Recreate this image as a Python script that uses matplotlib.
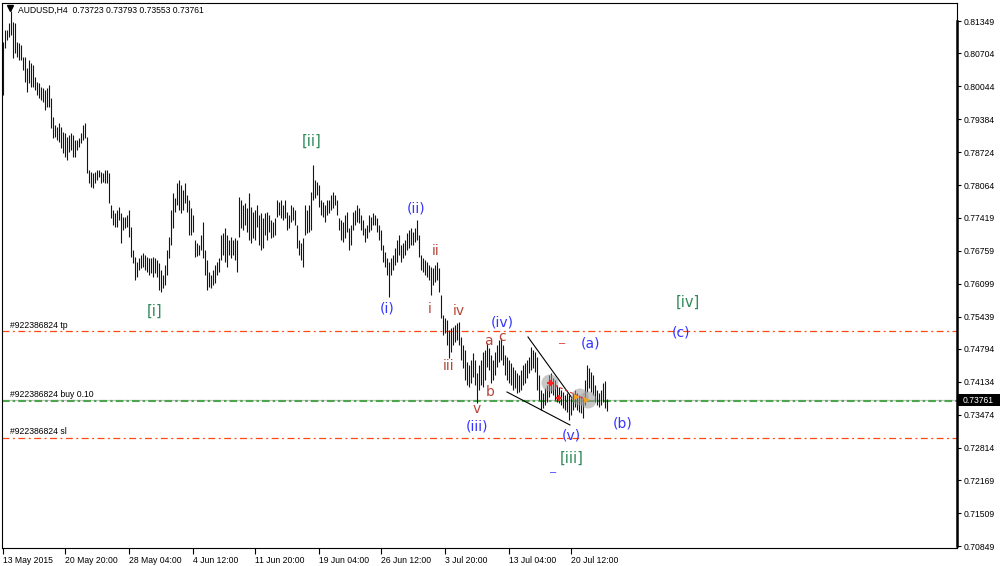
import matplotlib
matplotlib.use("Agg")
import matplotlib.pyplot as plt
import matplotlib.transforms as mtransforms
from matplotlib.lines import Line2D
from matplotlib.patches import Rectangle

plt.rcParams['font.family'] = ['Liberation Sans', 'DejaVu Sans']

symbol = "AUDUSD,H4"
last_ohlc = [0.73723, 0.73793, 0.73553, 0.73761]

# H4 bar highs / lows, oldest first
highs = [
    0.8093, 0.8117, 0.8117, 0.8131, 0.8155, 0.8133, 0.8131, 0.8093, 0.8091, 0.8087,
    0.8063, 0.8063, 0.8041, 0.8057, 0.8051, 0.8047, 0.8023, 0.8013, 0.8011, 0.8003,
    0.8001, 0.7997, 0.8001, 0.8007, 0.7981, 0.7943, 0.7927, 0.7923, 0.7931, 0.7923,
    0.7913, 0.7911, 0.7903, 0.7907, 0.7911, 0.7907, 0.7897, 0.7897, 0.7901, 0.7911,
    0.7927, 0.7931, 0.7903, 0.7837, 0.7833, 0.7831, 0.7833, 0.7837, 0.7837, 0.7833,
    0.7831, 0.7837, 0.7837, 0.7831, 0.7767, 0.7757, 0.7751, 0.7757, 0.7763, 0.7751,
    0.7743, 0.7743, 0.7747, 0.7757, 0.7723, 0.7677, 0.7663, 0.7653, 0.7661, 0.7667,
    0.7671, 0.7667, 0.7663, 0.7661, 0.7661, 0.7663, 0.7661, 0.7657, 0.7651, 0.7637,
    0.7627, 0.7647, 0.7677, 0.7703, 0.7757, 0.7791, 0.7781, 0.7811, 0.7817, 0.7807,
    0.7797, 0.7811, 0.7787, 0.7777, 0.7761, 0.7747, 0.7697, 0.7691, 0.7687, 0.7707,
    0.7733, 0.7677, 0.7657, 0.7633, 0.7627, 0.7637, 0.7647, 0.7653, 0.7661, 0.7707,
    0.7711, 0.7721, 0.7707, 0.7697, 0.7703, 0.7697, 0.7701, 0.7697, 0.7783, 0.7777,
    0.7767, 0.7771, 0.7761, 0.7791, 0.7763, 0.7753, 0.7757, 0.7767, 0.7747, 0.7751,
    0.7741, 0.7751, 0.7753, 0.7747, 0.7737, 0.7733, 0.7741, 0.7777, 0.7773, 0.7777,
    0.7767, 0.7777, 0.7753, 0.7747, 0.7767, 0.7763, 0.7757, 0.7727, 0.7697, 0.7691,
    0.7701, 0.7767, 0.7757, 0.7767, 0.7793, 0.7847, 0.7817, 0.7813, 0.7807, 0.7777,
    0.7773, 0.7767, 0.7777, 0.7777, 0.7787, 0.7793, 0.7787, 0.7777, 0.7741, 0.7737,
    0.7733, 0.7747, 0.7753, 0.7721, 0.7727, 0.7753, 0.7757, 0.7767, 0.7761, 0.7747,
    0.7737, 0.7721, 0.7727, 0.7747, 0.7743, 0.7751, 0.7747, 0.7741, 0.7727, 0.7717,
    0.7687, 0.7673, 0.7661, 0.7653, 0.7661, 0.7667, 0.7681, 0.7697, 0.7707, 0.7687,
    0.7691, 0.7697, 0.7711, 0.7717, 0.7721, 0.7713, 0.7721, 0.7737, 0.7707, 0.7667,
    0.7661, 0.7657, 0.7653, 0.7647, 0.7643, 0.7641, 0.7647, 0.7653, 0.7641, 0.7587,
    0.7547, 0.7541, 0.7537, 0.7517, 0.7521, 0.7523, 0.7527, 0.7531, 0.7533, 0.7503,
    0.7487, 0.7477, 0.7453, 0.7447, 0.7457, 0.7471, 0.7457, 0.7431, 0.7447, 0.7457,
    0.7473, 0.7477, 0.7491, 0.7481, 0.7467, 0.7457, 0.7473, 0.7487, 0.7497, 0.7501,
    0.7487, 0.7467, 0.7463, 0.7457, 0.7451, 0.7443, 0.7437, 0.7431, 0.7427, 0.7437,
    0.7447, 0.7451, 0.7457, 0.7463, 0.7483, 0.7477, 0.7473, 0.7463, 0.7427, 0.7397,
    0.7391, 0.7401, 0.7407, 0.7427, 0.7431, 0.7421, 0.7417, 0.7407, 0.7403, 0.7397,
    0.7393, 0.7387, 0.7391, 0.7387, 0.7381, 0.7391, 0.7397, 0.7391, 0.7387, 0.7383,
    0.7381, 0.7417, 0.7447, 0.7441, 0.7433, 0.7427, 0.7407, 0.7397, 0.7391, 0.7397,
    0.7411, 0.7415, 0.73793,
]
lows = [
    0.7987, 0.8081, 0.8097, 0.8103, 0.8107, 0.8061, 0.8071, 0.8063, 0.8057, 0.8057,
    0.8037, 0.8013, 0.7993, 0.8011, 0.8003, 0.8003, 0.7997, 0.7987, 0.7981, 0.7977,
    0.7973, 0.7957, 0.7963, 0.7963, 0.7921, 0.7901, 0.7903, 0.7897, 0.7893, 0.7881,
    0.7871, 0.7863, 0.7857, 0.7873, 0.7877, 0.7863, 0.7863, 0.7877, 0.7883, 0.7891,
    0.7897, 0.7901, 0.7831, 0.7811, 0.7803, 0.7801, 0.7811, 0.7817, 0.7823, 0.7811,
    0.7813, 0.7811, 0.7811, 0.7771, 0.7741, 0.7727, 0.7723, 0.7723, 0.7737, 0.7691,
    0.7717, 0.7721, 0.7723, 0.7703, 0.7663, 0.7651, 0.7617, 0.7623, 0.7637, 0.7641,
    0.7643, 0.7637, 0.7633, 0.7627, 0.7631, 0.7623, 0.7631, 0.7623, 0.7597, 0.7593,
    0.7601, 0.7607, 0.7627, 0.7661, 0.7687, 0.7721, 0.7753, 0.7767, 0.7757, 0.7751,
    0.7757, 0.7771, 0.7753, 0.7707, 0.7707, 0.7713, 0.7663, 0.7665, 0.7667, 0.7677,
    0.7661, 0.7627, 0.7597, 0.7603, 0.7601, 0.7607, 0.7611, 0.7627, 0.7633, 0.7657,
    0.7667, 0.7653, 0.7643, 0.7667, 0.7661, 0.7667, 0.7657, 0.7633, 0.7703, 0.7721,
    0.7717, 0.7727, 0.7713, 0.7697, 0.7691, 0.7701, 0.7697, 0.7723, 0.7687, 0.7677,
    0.7681, 0.7707, 0.7697, 0.7713, 0.7701, 0.7703, 0.7707, 0.7743, 0.7747, 0.7741,
    0.7737, 0.7741, 0.7717, 0.7721, 0.7733, 0.7737, 0.7727, 0.7681, 0.7667, 0.7657,
    0.7643, 0.7707, 0.7711, 0.7713, 0.7717, 0.7777, 0.7781, 0.7787, 0.7763, 0.7747,
    0.7743, 0.7733, 0.7747, 0.7751, 0.7757, 0.7761, 0.7767, 0.7747, 0.7717, 0.7697,
    0.7693, 0.7701, 0.7713, 0.7677, 0.7687, 0.7717, 0.7727, 0.7733, 0.7731, 0.7717,
    0.7707, 0.7693, 0.7701, 0.7713, 0.7717, 0.7727, 0.7727, 0.7713, 0.7697, 0.7677,
    0.7653, 0.7643, 0.7627, 0.7583, 0.7627, 0.7637, 0.7647, 0.7653, 0.7667, 0.7653,
    0.7661, 0.7667, 0.7677, 0.7681, 0.7687, 0.7687, 0.7693, 0.7697, 0.7663, 0.7637,
    0.7633, 0.7627, 0.7623, 0.7617, 0.7587, 0.7607, 0.7613, 0.7617, 0.7593, 0.7541,
    0.7507, 0.7511, 0.7487, 0.7461, 0.7473, 0.7487, 0.7493, 0.7497, 0.7487, 0.7457,
    0.7441, 0.7417, 0.7407, 0.7403, 0.7411, 0.7423, 0.7407, 0.7371, 0.7397, 0.7407,
    0.7403, 0.7417, 0.7443, 0.7437, 0.7411, 0.7417, 0.7427, 0.7443, 0.7453, 0.7457,
    0.7447, 0.7427, 0.7417, 0.7411, 0.7407, 0.7397, 0.7401, 0.7391, 0.7393, 0.7397,
    0.7407, 0.7411, 0.7421, 0.7431, 0.7437, 0.7441, 0.7433, 0.7397, 0.7377, 0.7357,
    0.7361, 0.7367, 0.7373, 0.7383, 0.7391, 0.7387, 0.7377, 0.7373, 0.7371, 0.7367,
    0.7361, 0.7357, 0.7353, 0.7337, 0.7347, 0.7357, 0.7363, 0.7357, 0.7353, 0.7351,
    0.7341, 0.7367, 0.7393, 0.7401, 0.7393, 0.7387, 0.7373, 0.7367, 0.7363, 0.7367,
    0.7373, 0.7361, 0.73553,
]

price_ticks = [0.81349, 0.80704, 0.80044, 0.79384, 0.78724, 0.78064, 0.77419,
               0.76759, 0.76099, 0.75439, 0.74794, 0.74134, 0.73474, 0.72814,
               0.72169, 0.71509, 0.70849]
date_labels = ["13 May 2015", "20 May 20:00", "28 May 04:00", "4 Jun 12:00",
               "11 Jun 20:00", "19 Jun 04:00", "26 Jun 12:00", "3 Jul 20:00",
               "13 Jul 04:00", "20 Jul 12:00"]
date_bars = [0, 31, 63, 95, 126, 158, 189, 221, 253, 284]

# open order levels
order_id = "#922386824"
tp_level = 0.7515
buy_level = 0.73756
sl_level = 0.7302
bid_price = last_ohlc[3]

# Elliott wave labels: (text, bar, price)
major_waves = [("[i]", 76, 0.7555), ("[ii]", 154.5, 0.7895),
               ("[iii]", 284.5, 0.7261), ("[iv]", 342.5, 0.7573)]
minor_waves = [("(i)", 192, 0.7561), ("(ii)", 206.5, 0.7761), ("(iii)", 237, 0.7323),
               ("(iv)", 249.5, 0.7533), ("(v)", 284, 0.7305), ("(a)", 293.5, 0.7489),
               ("(b)", 310, 0.7329), ("(c)", 339, 0.7511)]
minute_waves = [("i", 213.5, 0.7559), ("ii", 216.5, 0.7675), ("iii", 223, 0.7445),
                ("iv", 228, 0.7555), ("v", 237, 0.7359), ("a", 242.5, 0.7495),
                ("b", 243.5, 0.7393), ("c", 249.5, 0.7503)]

# wedge trend lines: (bar0, price0, bar1, price1)
wedge_upper = (262.5, 0.7503, 284.5, 0.7381)
wedge_lower = (252, 0.7393, 283.5, 0.7327)

# trade markers
deal_circles_x = [273.5, 288.5, 292.5]
deal_circles_y = [0.7411, 0.7383, 0.7377]
deal_cross_x = [273.5, 278]
deal_cross_y = [0.7411, 0.7381]
deal_arrow_x = [287, 292]
deal_arrow_y = [0.7383, 0.7377]

W, H = 1000, 566
fig = plt.figure(figsize=(W / 100, H / 100), dpi=100)
fig.patch.set_facecolor("white")
left_px, right_px, top_px, bottom_px = 2, 957, 3, 548
ax = fig.add_axes([left_px / W, 1 - bottom_px / H,
                   (right_px - left_px) / W, (bottom_px - top_px) / H])
ymin, ymax = 0.7081, 0.8171
ax.set_xlim(-0.5, 477)
ax.set_ylim(ymin, ymax)

bars = list(range(len(highs)))
ax.vlines(bars, lows, highs, color="#151515", lw=0.8, zorder=3)

# order lines
plt.rcParams['lines.scale_dashes'] = False
red_dash = (0, (5, 2.5, 1.4, 2.5))
ax.axhline(tp_level, color="#ff4a12", lw=0.9, ls=red_dash, zorder=2)
ax.axhline(sl_level, color="#ff4a12", lw=0.9, ls=red_dash, zorder=2)
ax.axhline(bid_price, color="#c4c4c4", lw=0.9, zorder=1)
ax.axhline(buy_level, color="#4da64d", lw=1.5, ls=(0, (5.5, 2.2, 1.8, 2.2)), zorder=2)
lab_kw = dict(fontsize=6.2, color="black", va="bottom", ha="left")
ax.text(3.5, tp_level + 0.0003, f"{order_id} tp", **lab_kw)
ax.text(3.5, buy_level + 0.0003, f"{order_id} buy 0.10", **lab_kw)
ax.text(3.5, sl_level + 0.0003, f"{order_id} sl", **lab_kw)

# wedge lines
for x0, y0, x1, y1 in (wedge_upper, wedge_lower):
    ax.plot([x0, x1], [y0, y1], color="black", lw=0.8, zorder=4)

# trade markers
ax.scatter(deal_circles_x, deal_circles_y, s=150, color="#9a9a9a", alpha=0.55,
           edgecolors="none", zorder=5)
ax.plot([deal_cross_x[0], deal_arrow_x[1]], [deal_cross_y[0], deal_arrow_y[1]],
        color="#e02020", lw=0.8, ls=(0, (2, 2)), zorder=6)
ax.scatter(deal_cross_x, deal_cross_y, s=22, marker="+", color="#ff2020",
           linewidths=1.6, zorder=7)
ax.scatter(deal_arrow_x, deal_arrow_y, s=18, marker=">", color="#f0a020",
           edgecolors="none", zorder=7)

# wave labels
wave_font = ['DejaVu Sans']
for txt, bx, py in major_waves:
    ax.text(bx, py, txt, color="#2f8a5a", fontsize=10.5, family=wave_font,
            ha="center", va="center", zorder=8)
for txt, bx, py in minor_waves:
    ax.text(bx, py, txt, color="#3434ff", fontsize=10, family=wave_font,
            ha="center", va="center", zorder=8)
for txt, bx, py in minute_waves:
    ax.text(bx, py, txt, color="#b5473a", fontsize=10, family=wave_font,
            ha="center", va="center", zorder=8)
ax.text(279.5, 0.7491, "\u2013", color="#e02020", fontsize=8, ha="center", va="center")
ax.text(275, 0.7233, "\u2013", color="#3434ff", fontsize=8, ha="center", va="center")

# axes frame and scales
for sp in ax.spines.values():
    sp.set_color("black")
    sp.set_linewidth(0.8)
ax.yaxis.tick_right()
ax.set_yticks(price_ticks)
ax.set_yticklabels([f"{p:.5f}" for p in price_ticks])
ax.tick_params(axis="y", length=3, width=0.8, pad=2, labelsize=6.2, direction="out")
ax.set_xticks(date_bars)
ax.set_xticklabels(date_labels)
for lbl in ax.get_xticklabels():
    lbl.set_horizontalalignment("left")
ax.tick_params(axis="x", length=4, width=0.8, pad=1.5, labelsize=6.2, direction="out")

# heavy price scale bar on the right edge
ax.plot([1, 1], [price_ticks[0], price_ticks[-1]], color="black", lw=1.8,
        transform=mtransforms.blended_transform_factory(ax.transAxes, ax.transData),
        clip_on=False, zorder=9)

# current bid box
blend = mtransforms.blended_transform_factory(fig.transFigure, ax.transData)
fig.add_artist(Rectangle((right_px / W, bid_price - 0.0012), (W - right_px) / W, 0.0024,
                         transform=blend, facecolor="black", edgecolor="none", clip_on=False))
fig.text(963 / W, bid_price, f"{bid_price:.5f}", color="white", fontsize=6.2,
         va="center", ha="left", transform=blend)

# header
header = f"{symbol}  " + " ".join(f"{v:.5f}" for v in last_ohlc)
fig.text(18 / W, 1 - 10 / H, header, fontsize=6.2, va="center", ha="left")
fig.add_artist(Line2D([10 / W], [1 - 8 / H], marker="v", color="black", markersize=4.5,
                      transform=fig.transFigure))

fig.savefig("out.png", dpi=100)
